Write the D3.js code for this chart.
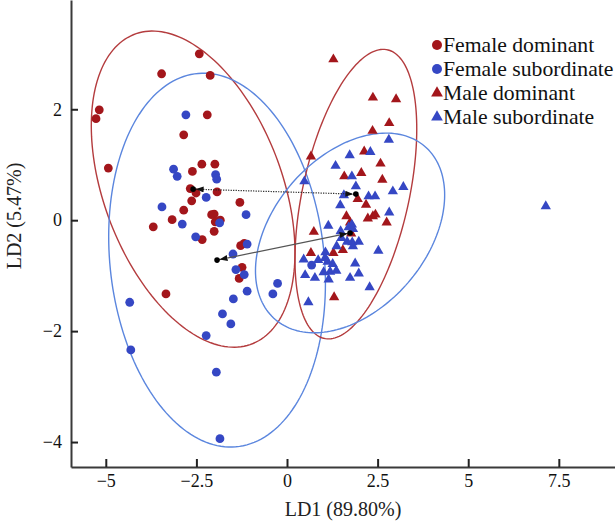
<!DOCTYPE html>
<html>
<head>
<meta charset="utf-8">
<script src="https://cdn.jsdelivr.net/npm/d3@7"></script>
<style>
  body { margin: 0; background: #fff; }
  svg { display: block; font-family: "Liberation Serif", "Times New Roman", serif; }
</style>
</head>
<body>
<div id="chart"></div>
<script>
// groups and their scores on LD1 / LD2
const groups = ["Female dominant", "Female subordinate", "Male dominant", "Male subordinate"];

const femaleDominant = [
  [-2.42, 3.00], [-3.46, 2.64], [-2.12, 2.61], [-5.18, 1.99], [-5.27, 1.83], [-2.20, 1.90],
  [-2.85, 1.54], [-4.93, 0.94], [-2.35, 1.01], [-1.99, 1.01], [-2.61, 0.88], [-2.67, 0.57],
  [-2.51, 0.49], [-1.93, 0.51], [-2.63, 0.35], [-1.30, 0.32], [-2.85, 0.18], [-2.08, 0.10],
  [-2.01, 0.11], [-1.98, -0.03], [-1.84, 0.00], [-3.17, 0.01], [-3.69, -0.12], [-2.01, -0.20],
  [-2.34, -0.35], [-1.28, -0.46], [-1.18, -0.42], [-1.24, -0.85], [-1.32, -1.05], [-3.34, -1.33]
];

const femaleSubordinate = [
  [-2.79, 1.90], [-3.13, 0.92], [-3.03, 0.79], [-1.97, 0.82], [-1.94, 0.74], [-2.23, 0.41],
  [-3.45, 0.24], [-2.89, -0.07], [-1.86, -0.05], [-1.13, 0.10], [-2.52, -0.30], [-1.10, -0.43],
  [-1.49, -0.61], [-1.41, -0.89], [-1.18, -0.98], [-0.26, -1.14], [-0.39, -1.33], [-1.10, -1.28],
  [-1.48, -1.42], [-1.78, -1.69], [-1.55, -1.87], [-2.23, -2.08], [-4.34, -1.48], [-4.31, -2.34],
  [-1.95, -2.74], [-1.85, -3.94], [0.68, -0.81]
];

const maleDominant = [
  [1.28, 2.90], [2.37, 2.21], [3.01, 2.18], [2.82, 1.75], [2.36, 1.61], [0.66, 1.15],
  [2.13, 1.24], [2.58, 1.02], [2.05, 0.85], [1.58, 0.79], [2.63, 0.73], [1.95, 0.38],
  [2.18, 0.28], [1.64, 0.07], [2.23, 0.03], [2.37, 0.07], [2.44, 0.10], [2.75, -0.04],
  [1.74, -0.04], [1.77, -0.24], [0.74, -0.21], [0.66, -0.59], [1.28, -0.59], [1.54, -0.54],
  [1.30, -1.39]
];

const maleSubordinate = [
  [2.81, 1.45], [2.30, 1.23], [1.73, 1.17], [1.34, 0.98], [1.79, 0.79], [1.90, 0.61],
  [1.57, 0.45], [2.25, 0.43], [2.43, 0.43], [2.92, 0.52], [3.21, 0.60], [0.48, 0.70],
  [1.47, 0.27], [2.82, 0.14], [1.14, -0.10], [1.79, -0.08], [1.70, -0.13], [1.82, -0.16],
  [1.48, -0.20], [1.50, -0.32], [1.66, -0.39], [1.80, -0.40], [1.98, -0.39], [1.82, -0.47],
  [1.37, -0.47], [2.52, -0.55], [1.06, -0.58], [0.46, -0.71], [1.05, -0.68], [1.12, -0.75],
  [0.86, -0.72], [1.26, -0.79], [1.88, -0.78], [0.50, -0.99], [0.77, -1.04], [1.01, -0.94],
  [1.19, -0.93], [1.36, -0.91], [1.15, -1.07], [1.74, -1.04], [1.98, -0.96], [2.28, -1.21],
  [0.59, -1.48], [7.14, 0.25]
];

// group centroids (LD1, LD2)
const centroids = [[-2.59, 0.56], [-1.93, -0.72], [1.90, 0.47], [1.74, -0.23]];
// ellipse half-extent on LD1, half-extent on LD2, correlation
const ellipseSpread = [[2.81, 2.85, -0.40], [2.99, 3.37, -0.125], [1.68, 2.61, 0.45], [2.61, 1.80, 0.38]];

const xTicks = [-5, -2.5, 0, 2.5, 5, 7.5];
const xTickLabels = ["\u22125", "\u22122.5", "0", "2.5", "5", "7.5"];
const yTicks = [-4, -2, 0, 2];
const yTickLabels = ["\u22124", "\u22122", "0", "2"];
const xTitle = "LD1 (89.80%)";
const yTitle = "LD2 (5.47%)";

const pointSets = [femaleDominant, femaleSubordinate, maleDominant, maleSubordinate];
const pointColor = ["#a3161b", "#3547c4", "#a3161b", "#3547c4"];
const ellipseColor = ["#b43c3e", "#5b86de", "#b43c3e", "#5b86de"];
const isTriangle = [false, false, true, true];

const width = 615, height = 521;
const margin = { top: 0, right: 0, bottom: 54, left: 71 };

const x = d3.scaleLinear().domain([-5.96, 9.05]).range([margin.left, width - margin.right]);
const y = d3.scaleLinear().domain([-4.45, 3.97]).range([height - margin.bottom, margin.top]);

const svg = d3.select("#chart").append("svg").attr("width", width).attr("height", height);

// ellipses
const ellipseLine = d3.line().x((d) => x(d[0])).y((d) => y(d[1]));
ellipseSpread.forEach((e, i) => {
  const [cx, cy] = centroids[i];
  const [sx, sy, r] = e;
  const pts = d3.range(0, 181).map((k) => {
    const t = (k / 180) * 2 * Math.PI;
    return [cx + sx * Math.cos(t), cy + sy * (r * Math.cos(t) + Math.sqrt(1 - r * r) * Math.sin(t))];
  });
  svg.append("path")
    .attr("d", ellipseLine(pts))
    .attr("fill", "none")
    .attr("stroke", ellipseColor[i])
    .attr("stroke-width", 1.4);
});

// points
const tri = d3.symbol().type(d3.symbolTriangle).size(46);
pointSets.forEach((set, i) => {
  const g = svg.append("g");
  if (isTriangle[i]) {
    g.selectAll("path").data(set).join("path")
      .attr("d", tri)
      .attr("transform", (d) => `translate(${x(d[0])},${y(d[1])})`)
      .attr("fill", pointColor[i]);
  } else {
    g.selectAll("circle").data(set).join("circle")
      .attr("cx", (d) => x(d[0]))
      .attr("cy", (d) => y(d[1]))
      .attr("r", 4.4)
      .attr("fill", pointColor[i]);
  }
});

// arrows between centroids
svg.append("defs").append("marker")
  .attr("id", "head")
  .attr("viewBox", "0 0 8 6")
  .attr("refX", 10.5)
  .attr("refY", 3)
  .attr("markerWidth", 8)
  .attr("markerHeight", 6)
  .attr("markerUnits", "userSpaceOnUse")
  .attr("orient", "auto-start-reverse")
  .append("path")
  .attr("d", "M0,0L8,3L0,6Z")
  .attr("fill", "#111");

const links = [[0, 2, "1.2,1.3", "#222"], [1, 3, null, "#555"]];
links.forEach(([a, b, dash, col]) => {
  svg.append("line")
    .attr("x1", x(centroids[a][0])).attr("y1", y(centroids[a][1]))
    .attr("x2", x(centroids[b][0])).attr("y2", y(centroids[b][1]))
    .attr("stroke", col)
    .attr("stroke-width", 1.2)
    .attr("stroke-dasharray", dash)
    .attr("marker-start", "url(#head)")
    .attr("marker-end", "url(#head)");
});
svg.append("g").selectAll("circle").data(centroids).join("circle")
  .attr("cx", (d) => x(d[0]))
  .attr("cy", (d) => y(d[1]))
  .attr("r", 2.8)
  .attr("fill", "#000");

// axes
const xAxis = svg.append("g")
  .attr("transform", `translate(0,${height - margin.bottom})`)
  .call(d3.axisBottom(x).tickValues(xTicks).tickFormat((d, i) => xTickLabels[i])
    .tickSizeInner(-8).tickSizeOuter(0).tickPadding(7));
const yAxis = svg.append("g")
  .attr("transform", `translate(${margin.left},0)`)
  .call(d3.axisLeft(y).tickValues(yTicks).tickFormat((d, i) => yTickLabels[i])
    .tickSizeInner(-7).tickSizeOuter(0).tickPadding(9));

[xAxis, yAxis].forEach((a) => {
  a.select(".domain").attr("stroke", "#3a3a3a").attr("stroke-width", 2);
  a.selectAll(".tick line").attr("stroke", "#222").attr("stroke-width", 2);
  a.selectAll(".tick text").attr("font-family", "Liberation Serif, serif").attr("font-size", 18).attr("fill", "#111");
});

svg.append("text")
  .attr("x", (margin.left + width - margin.right) / 2)
  .attr("y", 516)
  .attr("text-anchor", "middle")
  .attr("font-size", 20)
  .attr("fill", "#222")
  .text(xTitle);

svg.append("text")
  .attr("transform", "translate(21,216) rotate(-90)")
  .attr("text-anchor", "middle")
  .attr("font-size", 20)
  .attr("fill", "#222")
  .text(yTitle);

// legend
const legend = svg.append("g").attr("transform", "translate(437,45)");
groups.forEach((name, i) => {
  const row = legend.append("g").attr("transform", `translate(0,${i * 24})`);
  if (isTriangle[i]) {
    row.append("path").attr("d", d3.symbol().type(d3.symbolTriangle).size(60)()).attr("fill", pointColor[i]);
  } else {
    row.append("circle").attr("r", 5).attr("fill", pointColor[i]);
  }
  row.append("text")
    .attr("x", 6)
    .attr("dy", "0.33em")
    .attr("font-size", 21.7)
    .attr("fill", "#111")
    .text(name);
});
</script>
</body>
</html>
